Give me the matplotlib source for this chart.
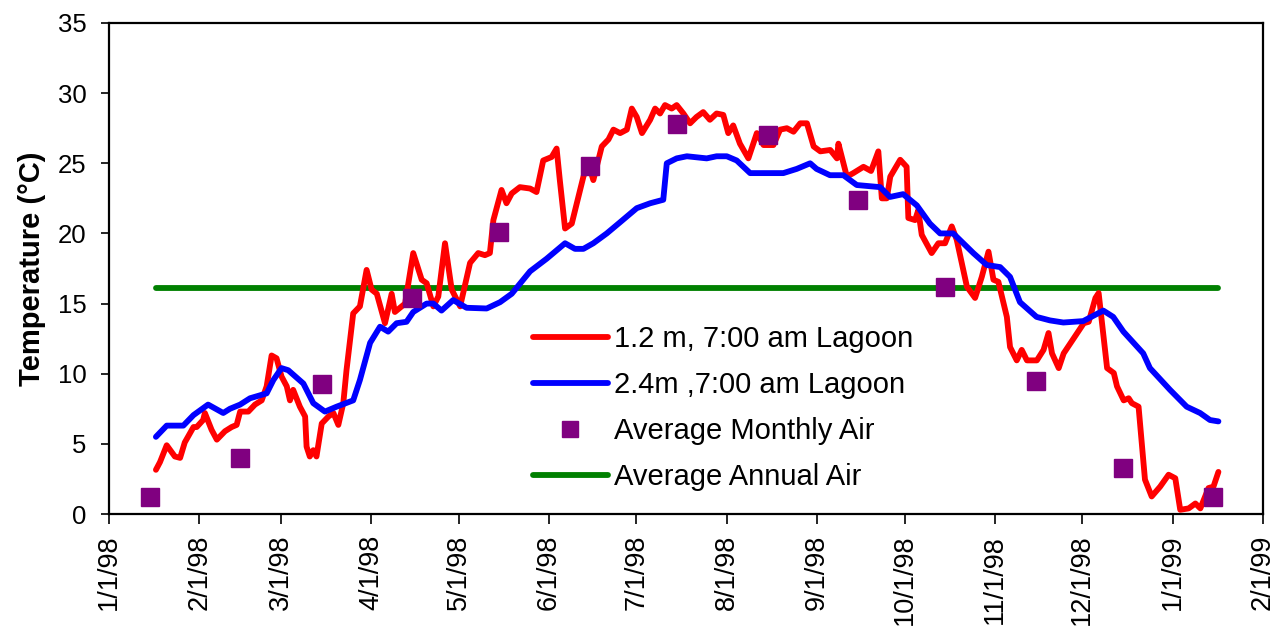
import datetime as dt
import matplotlib
matplotlib.use("Agg")
import matplotlib.pyplot as plt
from matplotlib.lines import Line2D

plt.rcParams['font.family'] = ['Liberation Sans', 'DejaVu Sans']

BASE = dt.datetime(1998, 1, 1)

# 1.2 m lagoon temperature: (days since 1/1/98, degC)
red_days = [16.1, 17.5, 19.8, 22.6, 24.4, 26, 29, 30.1, 32.3, 32.9, 35.2, 37, 39.8, 42.1, 43.8,
            45, 47.8, 50.1, 52.4, 54.1, 55.8, 57.5, 59.2, 61, 62.1, 63.2, 65.5, 67.3, 67.8, 68.9,
            70.1, 71.2, 73, 75.3, 77, 78.7, 80.4, 81.5, 83.8, 86.1, 88.4, 90.1, 91.9, 94.7, 97,
            98.1, 101.6, 104.4, 107.3, 109, 111.3, 113, 115.3, 117.6, 120.5, 123.9, 126.7, 129,
            130.7, 131.9, 134.7, 136.4, 138.2, 141, 144.5, 146.7, 149, 151.9, 153.6, 154.7, 156.5,
            158.8, 162.8, 164.5, 166.2, 169.1, 171.4, 173.1, 175.4, 177.7, 179.4, 181.1, 182.9,
            185.7, 187.4, 189.1, 190.8, 193.1, 194.8, 197.1, 199.4, 201.6, 203.9, 206.2, 208.5,
            210.8, 212.5, 214.2, 216.5, 219.4, 222.3, 224.6, 228, 230.3, 232.6, 234.9, 237.2,
            239.5, 241.8, 244.1, 247.5, 249.8, 250.3, 253.2, 255.4, 258.9, 261.5, 264, 265.2,
            266.9, 268.1, 271.5, 273.7, 274.3, 276.6, 277.7, 278.9, 282.3, 284.6, 286.9, 289.2,
            290.9, 294.4, 297.2, 299.5, 301.8, 303.5, 305.2, 308.1, 309.2, 311.5, 313.2, 315,
            318.4, 320.7, 322.4, 323.6, 325.9, 327.6, 334.5, 336.2, 338.5, 339.6, 342.5, 344.8,
            345.9, 348.2, 349.9, 351, 353.3, 355.5, 357.8, 360.7, 363.6, 365.9, 367.6, 370.5,
            372.8, 374.5, 377.3, 379, 380.7]
red_vals = [3.15, 3.7, 4.9, 4.1, 4.0, 5.1, 6.2, 6.2, 6.7, 7.2, 6.0, 5.3, 5.9, 6.2, 6.35,
            7.3, 7.3, 7.8, 8.1, 9.1, 11.3, 11.1, 9.8, 9.1, 8.1, 8.85, 7.65, 6.95, 4.8, 4.1,
            4.55, 4.1, 6.45, 6.95, 7.2, 6.35, 7.9, 10.25, 14.3, 14.8, 17.4, 16.0, 15.7, 13.6, 15.7,
            14.4, 15.0, 18.6, 16.7, 16.45, 14.8, 15.5, 19.3, 16.0, 14.8, 17.9, 18.6, 18.45,
            18.6, 20.95, 23.1, 22.15, 22.85, 23.3, 23.2, 22.95, 25.2, 25.45, 26.05, 23.8, 20.35,
            20.7, 24.05, 25.0, 23.8, 26.2, 26.7, 27.4, 27.15, 27.4, 28.9, 28.3, 27.15,
            28.1, 28.9, 28.55, 29.15, 28.9, 29.15, 28.55, 27.85, 28.3, 28.65, 28.1, 28.55,
            28.45, 27.15, 27.7, 26.4, 25.35, 27.15, 26.3, 26.3, 27.4, 27.5, 27.25, 27.85,
            27.85, 26.2, 25.85, 25.95, 25.35, 26.4, 24.05, 24.3, 24.75, 24.45, 25.85, 22.5,
            22.5, 24.05, 25.25, 24.75, 21.1, 20.95, 21.65, 19.9, 18.6, 19.3, 19.3, 20.5,
            19.55, 16.2, 15.4, 16.9, 18.7, 16.7, 16.55, 14.05, 11.9, 10.95, 11.7, 10.95,
            10.95, 11.7, 12.9, 11.45, 10.4, 11.45, 13.6, 13.7, 15.4, 15.75, 10.4, 10.05,
            9.1, 8.1, 8.25, 7.9, 7.65, 2.45, 1.25, 1.95, 2.8, 2.55, 0.3, 0.4,
            0.75, 0.4, 1.85, 1.95, 3.0]

# 2.4 m lagoon temperature
blue_days = [16.1, 19.8, 25.5, 29, 34, 39.2, 41.5, 45, 48.4, 54.1, 56.4, 59.2, 61.5, 66.7, 70.1,
             74.1, 78.1, 83.8, 86.1, 89.6, 93, 95.8, 98.7, 102.1, 104.4, 109, 111.3, 114.1,
             118.1, 122.7, 129.6, 134.2, 138.2, 144.5, 150.2, 156.5, 159.9, 162.8, 166.2, 170.8,
             175.4, 181.1, 185.7, 190.2, 191.4, 194.8, 198.3, 205.1, 208.5, 212, 215.4, 220,
             231.4, 236, 240.6, 242.8, 247.4, 252, 256.6, 264.6, 268, 272.5, 277.2, 281.7, 285.2,
             289.7, 296.6, 301.2, 305.8, 309.2, 312.6, 318.3, 322.9, 327.5, 334.3, 341.2, 344.6,
             348.1, 354.9, 357.2, 364.1, 369.8, 374.4, 377.8, 380.7]
blue_vals = [5.5, 6.3, 6.3, 7.05, 7.8, 7.2, 7.5, 7.8, 8.25, 8.6, 9.55, 10.4, 10.25, 9.3, 7.9,
             7.3, 7.65, 8.1, 9.55, 12.2, 13.35, 13.0, 13.6, 13.7, 14.4, 15.0, 15.0, 14.5,
             15.25, 14.7, 14.65, 15.1, 15.7, 17.3, 18.2, 19.3, 18.9, 18.9, 19.3, 20.0,
             20.8, 21.8, 22.15, 22.4, 25.0, 25.35, 25.5, 25.35, 25.5, 25.5, 25.2, 24.3,
             24.3, 24.6, 25.0, 24.6, 24.15, 24.15, 23.45, 23.3, 22.6, 22.8, 22.0, 20.7, 20.0,
             20.0, 18.6, 17.75, 17.6, 16.9, 15.1, 14.05, 13.8, 13.65, 13.75, 14.5, 14.05,
             13.0, 11.45, 10.4, 8.85, 7.65, 7.2, 6.7, 6.6]

# Average monthly air temperature (mid-month)
month_dates = ["1998-01-15", "1998-02-15", "1998-03-15", "1998-04-15", "1998-05-15",
               "1998-06-15", "1998-07-15", "1998-08-15", "1998-09-15", "1998-10-15",
               "1998-11-15", "1998-12-15", "1999-01-15"]
month_vals = [1.2, 4.0, 9.3, 15.4, 20.1, 24.8, 27.8, 27.0, 22.4, 16.2, 9.5, 3.3, 1.2]

annual_mean = 16.1

tick_dates = [dt.datetime(1998, m, 1) for m in range(1, 13)] + [dt.datetime(1999, 1, 1), dt.datetime(1999, 2, 1)]
labels = ["1.2 m, 7:00 am Lagoon", "2.4m ,7:00 am Lagoon", "Average Monthly Air", "Average Annual Air"]

red_x = [BASE + dt.timedelta(days=d) for d in red_days]
blue_x = [BASE + dt.timedelta(days=d) for d in blue_days]
mon_x = [dt.datetime.strptime(s, "%Y-%m-%d") for s in month_dates]

LW = 4.2
fig = plt.figure(figsize=(12.83, 6.29), dpi=100)
ax = fig.add_axes([109 / 1283, 115 / 629, 1154 / 1283, 491 / 629])

ax.plot(red_x, red_vals, color='#FF0000', lw=LW, solid_joinstyle='round', solid_capstyle='round', zorder=3)
ax.plot(blue_x, blue_vals, color='#0000FF', lw=LW, solid_joinstyle='round', solid_capstyle='round', zorder=4)
ax.plot(mon_x, month_vals, linestyle='none', marker='s', ms=12.5, color='#800080', zorder=5)
ax.plot([red_x[0], red_x[-1]], [annual_mean, annual_mean], color='#008000', lw=LW,
        solid_capstyle='round', zorder=2)

ax.set_ylim(0, 35)
ax.set_yticks(range(0, 36, 5))
ax.set_xlim(tick_dates[0], tick_dates[-1])
ax.set_xticks(tick_dates)
ax.set_xticklabels([f"{d.month}/{d.day}/{d.strftime('%y')}" for d in tick_dates], rotation=90)

ax.tick_params(axis='y', labelsize=18.5, direction='out', length=6, width=1.2, pad=10)
ax.tick_params(axis='x', labelsize=19.5, direction='out', length=7, width=1.2, pad=8)
for s in ax.spines.values():
    s.set_linewidth(1.6)

ax.set_ylabel("Temperature (°C)", fontsize=21, fontweight='bold', labelpad=9)

handles = [Line2D([], [], color='#FF0000', lw=LW, solid_capstyle='round'),
           Line2D([], [], color='#0000FF', lw=LW, solid_capstyle='round'),
           Line2D([], [], linestyle='none', marker='s', ms=12, color='#800080'),
           Line2D([], [], color='#008000', lw=LW, solid_capstyle='round')]
ax.legend(handles, labels, loc='upper left', bbox_to_anchor=(0.367, 0.385), frameon=False,
          fontsize=21, handlelength=2.6, handletextpad=0.2, labelspacing=0.62, borderpad=0,
          borderaxespad=0)

fig.savefig("out.png", dpi=100)
